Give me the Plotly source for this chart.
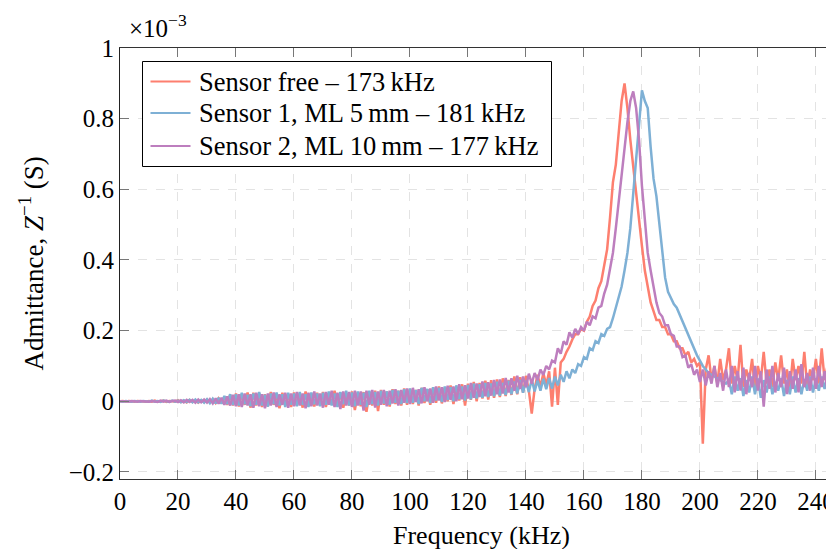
import plotly.graph_objects as go

# Frequency axis (kHz), 1 kHz steps
freq_khz = list(range(0, 250))

# Admittance values in units of 1e-3 S
sensor_free = [
    0, 0.001, -0.001, 0.001, 0, -0.001, 0.001, 0, 0.001, -0.001,
    0.001, -0.001, 0.002, -0.001, 0, 0.002, -0.002, 0.001, 0, -0.001,
    0.003, -0.002, 0.002, -0.003, 0.004, -0.002, 0.003, -0.004, 0.003, -0.002,
    0.005, -0.004, 0.006, -0.005, 0.008, -0.006, 0.012, -0.01, 0.018, -0.012,
    0.022, -0.015, 0.02, -0.01, 0.025, -0.018, 0.024, -0.012, 0.022, -0.016,
    0.02, -0.014, 0.026, -0.01, 0.018, -0.02, 0.024, -0.012, 0.02, -0.016,
    0.025, -0.012, 0.022, -0.018, 0.028, -0.01, 0.02, -0.015, 0.024, -0.012,
    0.026, -0.016, 0.022, -0.01, 0.03, -0.014, 0.024, -0.018, 0.022, -0.012,
    0.028, -0.025, 0.024, -0.014, 0.026, -0.03, 0.022, -0.012, 0.03, -0.028,
    0.032, -0.01, 0.028, -0.015, 0.034, -0.008, 0.03, -0.012, 0.036, -0.01,
    0.035, -0.008, 0.032, -0.012, 0.038, -0.005, 0.034, -0.01, 0.04, -0.004,
    0.042, -0.006, 0.038, 0.0, 0.045, -0.008, 0.04, 0.002, 0.048, -0.012,
    0.05, 0.004, 0.055, 0.0, 0.052, 0.008, 0.058, 0.005, 0.06, 0.01,
    0.062, 0.012, 0.065, 0.015, 0.06, 0.018, 0.07, 0.02, 0.068, 0.025,
    0.072, 0.03, -0.035, 0.035, 0.075, 0.04, 0.08, 0.045, 0.085, -0.015,
    0.095, -0.01, 0.11, 0.12, 0.14, 0.155, 0.175, 0.19, 0.19, 0.205,
    0.2, 0.225, 0.24, 0.27, 0.285, 0.32, 0.34, 0.385, 0.43, 0.52,
    0.62, 0.67, 0.77, 0.85, 0.90, 0.83, 0.74, 0.66, 0.58, 0.51,
    0.44, 0.37, 0.325, 0.28, 0.255, 0.23, 0.23, 0.21, 0.21, 0.19,
    0.19, 0.17, 0.17, 0.15, 0.15, 0.13, 0.14, 0.11, 0.12, 0.10,
    0.11, -0.12, 0.09, 0.13, 0.06, 0.10, 0.05, 0.12, 0.06, 0.09,
    0.15, 0.05, 0.1, 0.06, 0.16, 0.04, 0.09, 0.06, 0.12, 0.03,
    0.1, 0.06, 0.14, 0.05, 0.09, 0.04, 0.11, 0.06, 0.13, 0.05,
    0.09, 0.03, 0.12, 0.06, 0.1, 0.05, 0.14, 0.04, 0.09, 0.06,
    0.12, 0.05, 0.15, 0.06, 0.1, 0.04, 0.11, 0.07, 0.13, 0.06,
]

sensor_1 = [
    0, -0.001, 0.001, 0, -0.001, 0.001, 0, -0.001, 0.001, 0,
    -0.001, 0.002, -0.001, 0.001, -0.002, 0.002, 0, -0.002, 0.002, -0.001,
    0.002, -0.003, 0.003, -0.002, 0.004, -0.003, 0.005, -0.003, 0.004, -0.004,
    0.006, -0.005, 0.007, -0.006, 0.01, -0.007, 0.015, -0.008, 0.02, -0.01,
    0.02, -0.012, 0.024, -0.008, 0.018, -0.014, 0.022, -0.01, 0.026, -0.012,
    0.018, -0.015, 0.022, -0.008, 0.025, -0.012, 0.02, -0.016, 0.024, -0.01,
    0.022, -0.014, 0.026, -0.01, 0.02, -0.016, 0.025, -0.008, 0.022, -0.014,
    0.024, -0.01, 0.028, -0.012, 0.022, -0.016, 0.026, -0.008, 0.03, -0.012,
    0.025, -0.014, 0.028, -0.01, 0.024, -0.016, 0.03, -0.008, 0.026, -0.012,
    0.03, -0.006, 0.028, -0.01, 0.032, -0.004, 0.03, -0.008, 0.034, -0.005,
    0.036, -0.004, 0.032, -0.008, 0.038, 0.0, 0.035, -0.005, 0.04, 0.002,
    0.038, -0.002, 0.042, 0.004, 0.04, 0.0, 0.045, 0.006, 0.042, 0.002,
    0.046, 0.006, 0.05, 0.008, 0.048, 0.01, 0.052, 0.012, 0.05, 0.014,
    0.055, 0.016, 0.052, 0.018, 0.058, 0.02, 0.056, 0.022, 0.06, 0.024,
    0.058, 0.026, 0.062, 0.028, 0.06, 0.03, 0.064, 0.034, 0.066, 0.036,
    0.07, 0.045, 0.075, 0.055, 0.085, 0.065, 0.09, 0.08, 0.105, 0.1,
    0.125, 0.12, 0.15, 0.145, 0.17, 0.165, 0.19, 0.185, 0.205, 0.21,
    0.235, 0.265, 0.29, 0.325, 0.37, 0.42, 0.49, 0.59, 0.70, 0.80,
    0.88, 0.85, 0.83, 0.72, 0.63, 0.58, 0.50, 0.42, 0.35, 0.31,
    0.29, 0.275, 0.265, 0.245, 0.225, 0.205, 0.185, 0.165, 0.145, 0.13,
    0.115, 0.10, 0.09, 0.08, 0.075, 0.07, 0.065, 0.06, 0.055, 0.05,
    0.06, 0.02, 0.07, 0.03, 0.065, 0.015, 0.06, 0.025, 0.07, 0.02,
    0.065, 0.01, 0.06, 0.025, 0.07, 0.02, 0.055, 0.03, 0.065, 0.015,
    0.06, 0.02, 0.07, 0.025, 0.065, 0.02, 0.06, 0.03, 0.07, 0.025,
    0.065, 0.03, 0.07, 0.035, 0.075, 0.03, 0.07, 0.04, 0.075, 0.035,
]

sensor_2 = [
    0, 0.001, 0, -0.001, 0.001, 0, -0.001, 0.001, 0, 0.001,
    -0.001, 0.001, 0, -0.002, 0.002, -0.001, 0.002, -0.002, 0.001, 0.002,
    -0.002, 0.003, -0.003, 0.004, -0.002, 0.004, -0.004, 0.005, -0.003, 0.005,
    -0.004, 0.006, -0.006, 0.008, -0.007, 0.01, -0.01, 0.014, -0.012, 0.018,
    -0.014, 0.02, -0.016, 0.022, -0.012, 0.02, -0.018, 0.024, -0.014, 0.02,
    -0.02, 0.022, -0.012, 0.025, -0.016, 0.02, -0.01, 0.024, -0.018, 0.022,
    -0.014, 0.026, -0.012, 0.022, -0.02, 0.024, -0.014, 0.028, -0.012, 0.022,
    -0.018, 0.026, -0.01, 0.03, -0.016, 0.024, -0.022, 0.028, -0.012, 0.026,
    -0.016, 0.03, -0.012, 0.028, -0.026, 0.03, -0.01, 0.032, -0.018, 0.028,
    -0.01, 0.032, -0.014, 0.03, -0.006, 0.034, -0.012, 0.032, -0.004, 0.036,
    -0.008, 0.038, -0.002, 0.034, -0.006, 0.04, 0.0, 0.036, -0.004, 0.042,
    0.002, 0.04, -0.002, 0.044, 0.004, 0.042, 0.0, 0.048, 0.006, 0.045,
    0.008, 0.052, 0.01, 0.05, 0.012, 0.056, 0.014, 0.054, 0.016, 0.06,
    0.02, 0.062, 0.022, 0.066, 0.025, 0.065, 0.03, 0.072, 0.035, 0.07,
    0.04, 0.078, 0.05, 0.08, 0.06, 0.09, 0.075, 0.1, 0.09, 0.115,
    0.11, 0.15, 0.135, 0.17, 0.16, 0.195, 0.18, 0.205, 0.19, 0.21,
    0.2, 0.225, 0.215, 0.24, 0.235, 0.265, 0.27, 0.305, 0.33, 0.375,
    0.42, 0.49, 0.57, 0.64, 0.72, 0.79, 0.85, 0.877, 0.83, 0.74,
    0.61, 0.52, 0.42, 0.37, 0.32, 0.28, 0.25, 0.24, 0.215, 0.215,
    0.19, 0.185, 0.155, 0.155, 0.125, 0.13, 0.095, 0.105, 0.075, 0.09,
    0.055, 0.09, 0.045, 0.085, 0.05, 0.1, 0.04, 0.08, 0.03, 0.09,
    0.04, 0.1, 0.025, 0.085, 0.03, 0.095, 0.02, 0.08, 0.04, 0.1,
    0.03, 0.085, -0.015, 0.09, 0.035, 0.1, 0.025, 0.08, 0.04, 0.095,
    0.02, 0.085, 0.035, 0.09, 0.025, 0.105, 0.04, 0.08, 0.03, 0.095,
    0.035, 0.1, 0.04, 0.085, 0.03, 0.09, 0.045, 0.095, 0.04, 0.085,
]

series_names = [
    "Sensor free \u2013 173\u2009kHz",
    "Sensor 1, ML 5\u2009mm \u2013 181\u2009kHz",
    "Sensor 2, ML 10\u2009mm \u2013 177\u2009kHz",
]
series_colors = ["#fd7f6f", "#7eb0d5", "#bd7ebe"]
series_values = [sensor_free, sensor_1, sensor_2]

x_ticks = list(range(0, 250, 20))
y_ticks = [-0.2, 0, 0.2, 0.4, 0.6, 0.8, 1.0]

FONT = "Liberation Serif"

fig = go.Figure()
for name, color, vals in zip(series_names, series_colors, series_values):
    fig.add_trace(go.Scatter(
        x=freq_khz, y=vals, mode="lines", name=name,
        line=dict(color=color, width=2.5),
    ))

# The page body has an 8 px margin; margins below compensate for it.
# Plot area in page pixels: x 120..842, y 48..479
PX_L, PX_R, PX_T, PX_B = 120, 842, 48, 479
PW, PH = PX_R - PX_L, PX_B - PX_T


def px_x(px):
    return (px - PX_L) / PW


def px_y(py):
    return (PX_B - py) / PH


# Custom legend (box, line samples, labels) in paper coordinates
shapes = [dict(type="rect", xref="paper", yref="paper",
               x0=px_x(142.5), x1=px_x(551.5), y0=px_y(166.5), y1=px_y(61.5),
               line=dict(color="black", width=1), fillcolor="white", layer="above")]
annotations = []
row_y = [81.5, 113, 146]
for name, color, ry in zip(series_names, series_colors, row_y):
    shapes.append(dict(type="line", xref="paper", yref="paper",
                       x0=px_x(150.5), x1=px_x(190.5), y0=px_y(ry), y1=px_y(ry),
                       line=dict(color=color, width=2), layer="above"))
    annotations.append(dict(text=name, xref="paper", yref="paper",
                            x=px_x(197), y=px_y(ry), xanchor="left", yanchor="middle",
                            showarrow=False, font=dict(family=FONT, size=26.5)))

annotations += [
    dict(text="\u00d710<sup>\u22123</sup>", xref="paper", yref="paper",
         x=px_x(127), y=1.0, xanchor="left", yanchor="bottom",
         yshift=4, showarrow=False, font=dict(family=FONT, size=25)),
    dict(text="Admittance, <i>Z</i><sup>\u22121</sup> (S)", xref="paper", yref="paper",
         x=px_x(31), y=0.5, xanchor="center", yanchor="middle",
         textangle=-90, showarrow=False, font=dict(family=FONT, size=27)),
    dict(text="Frequency (kHz)", xref="paper", yref="paper",
         x=px_x(481), y=px_y(535), xanchor="center", yanchor="middle",
         showarrow=False, font=dict(family=FONT, size=26)),
]

fig.update_layout(
    width=834, height=549,
    margin=dict(l=112, r=0, t=40, b=78),
    paper_bgcolor="white", plot_bgcolor="white",
    font=dict(family=FONT, size=25, color="black"),
    showlegend=False,
    xaxis=dict(
        range=[0, 249.0], tickvals=x_ticks,
        showline=True, linecolor="#333", linewidth=1, mirror="allticks",
        ticks="inside", ticklen=9, tickcolor="#777", tickwidth=1,
        showgrid=True, gridcolor="#e3e3e3", griddash="dash", gridwidth=1,
        zeroline=False,
        title=dict(text=""),
    ),
    yaxis=dict(
        range=[-0.22, 1.0], tickvals=y_ticks,
        showline=True, linecolor="#222", linewidth=1, mirror=False,
        ticks="inside", ticklen=9, tickcolor="#777", tickwidth=1,
        showgrid=True, gridcolor="#e3e3e3", griddash="dash", gridwidth=1,
        zeroline=False,
        title=dict(text=""),
    ),
    shapes=shapes,
    annotations=annotations,
)

fig.write_html("out.html")
